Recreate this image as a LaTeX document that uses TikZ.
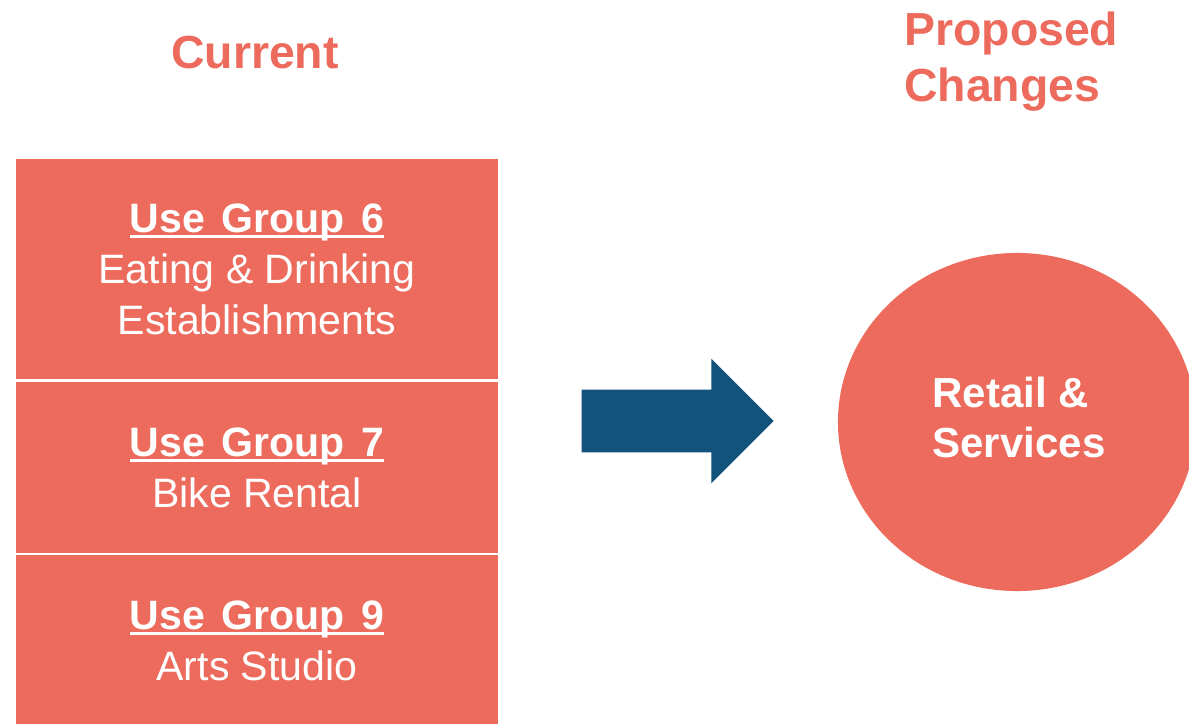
\documentclass[tikz,border=0pt]{standalone}
\usepackage{fontspec}
\setmainfont{Liberation Sans}
\usetikzlibrary{shapes}
\definecolor{salmon}{HTML}{ED6B5C}
\definecolor{navy}{HTML}{13527A}
\tikzset{
usebox/.style={
	  draw=white, line width=0.04cm, fill=salmon, text=white,
	    minimum width=12.1cm, align=center,
    font=\fontsize{29.2}{36.3}\selectfont},
heading/.style={text=salmon, inner sep=0, align=left,
    font=\bfseries\fontsize{33}{39.5}\selectfont}
}
\newcommand{\ugroup}[1]{\setbox0\hbox{\bfseries\spaceskip=0.4em #1}\rlap{\rule[-0.15cm]{\wd0}{0.075cm}}\box0}

\begin{document}
\begin{tikzpicture}[x=0.025cm, y=-0.025cm]
	\useasboundingbox (0,0) rectangle (1189,723);
	\node[heading, anchor=base] (current) at (255,68) {Current};
	\node[heading, anchor=north west] (proposed) at (904,12) {Proposed\\Changes};
	\node[usebox, minimum height=5.55cm] (ug6) at (257,269) {\ugroup{Use Group 6}\\Eating \& Drinking\\Establishments};
	\node[usebox, minimum height=4.325cm] (ug7) at (257,467.5) {\ugroup{Use Group 7}\\Bike Rental};
	\node[usebox, minimum height=4.325cm] (ug9) at (257,640.5) {\ugroup{Use Group 9}\\Arts Studio};
	\node[single arrow, fill=navy, inner xsep=0, inner ysep=0.775cm,
	  single arrow head extend=0.775cm, minimum height=4.8cm, anchor=tip] (shift) at (774,421) {};
	\node[ellipse, fill=salmon, minimum width=8.95cm, minimum height=8.45cm, text=white] (retail) at (1017,422) {};
	\node[text=white, align=left, font=\bfseries\fontsize{29.9}{35.6}\selectfont] (retailtxt) at (1019,417) {Retail \&\\Services};
\end{tikzpicture}
\end{document}
